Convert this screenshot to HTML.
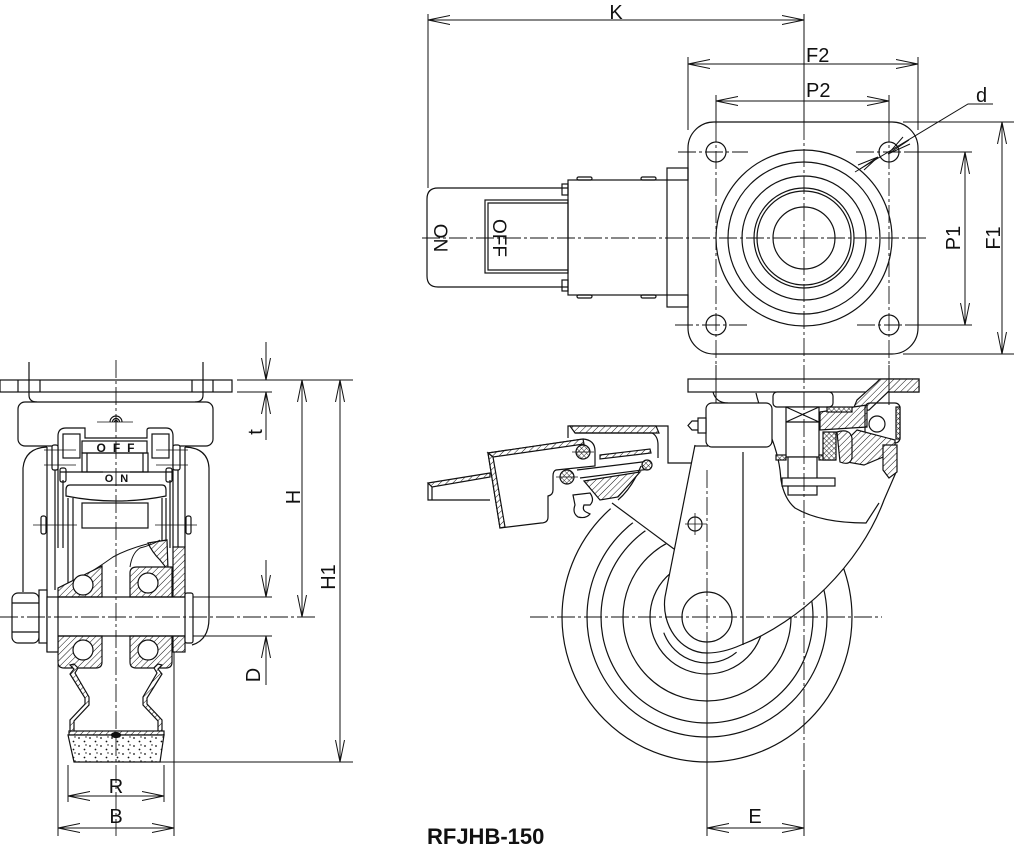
<!DOCTYPE html>
<html><head><meta charset="utf-8">
<style>
html,body{margin:0;padding:0;background:#fff;}
svg{display:block;}
text{font-family:"Liberation Sans",Arial,sans-serif;fill:#111;}
</style></head><body>
<svg width="1014" height="849" viewBox="0 0 1014 849" xmlns="http://www.w3.org/2000/svg">
<defs>
<marker id="ar" viewBox="0 0 22 10" refX="22" refY="5" markerWidth="22" markerHeight="10" markerUnits="userSpaceOnUse" orient="auto-start-reverse"><path d="M0,0.5 L22,5 L0,9.5" fill="none" stroke="#111" stroke-width="1"/></marker>
<pattern id="h" width="4.5" height="4.5" patternUnits="userSpaceOnUse" patternTransform="rotate(45)"><rect width="4.5" height="4.5" fill="#fff"/><line x1="0" y1="0" x2="0" y2="4.5" stroke="#111" stroke-width="1"/></pattern>
<pattern id="hx" width="3.5" height="3.5" patternUnits="userSpaceOnUse" patternTransform="rotate(45)"><rect width="3.5" height="3.5" fill="#fff"/><line x1="0" y1="0" x2="0" y2="3.5" stroke="#111" stroke-width="0.9"/><line x1="0" y1="0" x2="3.5" y2="0" stroke="#111" stroke-width="0.9"/></pattern>
<pattern id="st" width="11" height="8" patternUnits="userSpaceOnUse"><rect width="11" height="8" fill="#fff"/><circle cx="2" cy="2" r="0.9" fill="#111"/><circle cx="7.5" cy="5.5" r="0.9" fill="#111"/><circle cx="9" cy="1" r="0.7" fill="#111"/></pattern>
</defs>

<!-- ===================== TOP VIEW ===================== -->
<g fill="none" stroke="#111" stroke-width="1">
  <line x1="428" y1="20" x2="804" y2="20" marker-start="url(#ar)" marker-end="url(#ar)"/>
  <line x1="428" y1="14" x2="428" y2="188"/>
  <line x1="804" y1="14" x2="804" y2="122"/>
  <line x1="688" y1="64" x2="918" y2="64" marker-start="url(#ar)" marker-end="url(#ar)"/>
  <line x1="688" y1="57" x2="688" y2="130"/>
  <line x1="918" y1="57" x2="918" y2="130"/>
  <line x1="716" y1="101" x2="889" y2="101" marker-start="url(#ar)" marker-end="url(#ar)"/>
  <line x1="716" y1="95" x2="716" y2="124"/>
  <line x1="889" y1="95" x2="889" y2="124"/>
  <polyline points="993,104 968,104 855,172"/>
  <path d="M909,140 L888,154 M888,154 L903,137 M888,154 L910,144"/>
  <path d="M860,169 L878,157 M878,157 L858,165 M878,157 L864,170"/>
  <line x1="1002" y1="122" x2="1002" y2="354" marker-start="url(#ar)" marker-end="url(#ar)"/>
  <line x1="903" y1="122" x2="1014" y2="122"/>
  <line x1="903" y1="354" x2="1014" y2="354"/>
  <line x1="965" y1="152" x2="965" y2="325" marker-start="url(#ar)" marker-end="url(#ar)"/>
  <line x1="905" y1="152" x2="972" y2="152"/>
  <line x1="905" y1="325" x2="972" y2="325"/>
</g>
<g fill="none" stroke="#111" stroke-width="1.2">
  <rect x="688" y="122" width="230" height="232" rx="26"/>
  <circle cx="716" cy="152" r="10"/><circle cx="889" cy="152" r="10"/>
  <circle cx="716" cy="325" r="10"/><circle cx="889" cy="325" r="10"/>
  <circle cx="804" cy="238" r="88"/>
  <circle cx="804" cy="238" r="76"/>
  <circle cx="804" cy="238" r="62"/>
  <circle cx="804" cy="238" r="50"/>
  <circle cx="804" cy="238" r="47"/>
  <circle cx="804" cy="238" r="31"/>
  <path d="M568,188 H438 Q427,188 427,199 V276 Q427,287 438,287 H568"/>
  <rect x="485" y="200" width="83" height="73"/>
  <polyline points="568,203 488,203 488,270 568,270"/>
  <rect x="568" y="180" width="99" height="115"/>
  <rect x="562" y="184" width="6" height="11"/>
  <rect x="562" y="280" width="6" height="11"/>
  <rect x="577" y="177" width="15" height="3" rx="1.5"/>
  <rect x="641" y="177" width="15" height="3" rx="1.5"/>
  <rect x="577" y="295" width="15" height="3" rx="1.5"/>
  <rect x="641" y="295" width="15" height="3" rx="1.5"/>
  <rect x="667" y="168" width="21" height="12"/>
  <rect x="667" y="295" width="21" height="12"/>
</g>
<g fill="none" stroke="#111" stroke-width="0.9" stroke-dasharray="18,3,3,3">
  <line x1="422" y1="238" x2="926" y2="238"/>
  <line x1="804" y1="122" x2="804" y2="364"/>
  <line x1="716" y1="124" x2="716" y2="366"/>
  <line x1="889" y1="124" x2="889" y2="366"/>
  <line x1="678" y1="152" x2="748" y2="152"/>
  <line x1="856" y1="152" x2="905" y2="152"/>
  <line x1="675" y1="325" x2="749" y2="325"/>
  <line x1="857" y1="325" x2="905" y2="325"/>
</g>
<g font-size="20">
  <text x="616" y="19" text-anchor="middle">K</text>
  <text x="806" y="62">F2</text>
  <text x="806" y="97">P2</text>
  <text x="976" y="102">d</text>
  <text transform="translate(1000,238) rotate(-90)" text-anchor="middle">F1</text>
  <text transform="translate(960,238) rotate(-90)" text-anchor="middle">P1</text>
  <text transform="translate(434,238) rotate(90)" text-anchor="middle" font-size="19">ON</text>
  <text transform="translate(493,238) rotate(90)" text-anchor="middle" font-size="19">OFF</text>
</g>

<!-- ===================== LEFT (SIDE) VIEW ===================== -->
<g fill="none" stroke="#111" stroke-width="1">
  <line x1="237" y1="380" x2="353" y2="380"/>
  <line x1="237" y1="392" x2="272" y2="392"/>
  <line x1="266" y1="342" x2="266" y2="380" marker-end="url(#ar)"/>
  <line x1="266" y1="440" x2="266" y2="392" marker-end="url(#ar)"/>
  <line x1="302" y1="380" x2="302" y2="617" marker-start="url(#ar)" marker-end="url(#ar)"/>
  <line x1="340" y1="380" x2="340" y2="762" marker-start="url(#ar)" marker-end="url(#ar)"/>
  <line x1="193" y1="597" x2="272" y2="597"/>
  <line x1="193" y1="636" x2="272" y2="636"/>
  <line x1="266" y1="560" x2="266" y2="597" marker-end="url(#ar)"/>
  <line x1="266" y1="685" x2="266" y2="636" marker-end="url(#ar)"/>
  <line x1="160" y1="762" x2="353" y2="762"/>
  <line x1="68" y1="765" x2="68" y2="802"/>
  <line x1="164" y1="765" x2="164" y2="802"/>
  <line x1="58" y1="652" x2="58" y2="836"/>
  <line x1="174" y1="652" x2="174" y2="836"/>
  <line x1="68" y1="796" x2="164" y2="796" marker-start="url(#ar)" marker-end="url(#ar)"/>
  <line x1="58" y1="828" x2="174" y2="828" marker-start="url(#ar)" marker-end="url(#ar)"/>
</g>
<g fill="none" stroke="#111" stroke-width="1.2">
  <rect x="0" y="380" width="232" height="12"/>
  <line x1="18" y1="380" x2="18" y2="392"/><line x1="40" y1="380" x2="40" y2="392"/>
  <line x1="192" y1="380" x2="192" y2="392"/><line x1="213" y1="380" x2="213" y2="392"/>
  <path d="M29,362 V395 Q29,402 37,402"/>
  <path d="M203,362 V395 Q203,402 195,402"/>
  <rect x="18" y="402" width="195" height="44" rx="7" fill="#fff"/>
  <path d="M47,447 Q25,448 23,468 V592"/>
  <path d="M185,447 Q208,448 209,468 V618 Q209,640 192,645"/>
  <line x1="47" y1="447" x2="47" y2="652"/>
  <line x1="55" y1="457" x2="55" y2="590"/>
  <line x1="185" y1="447" x2="185" y2="547"/>
  <line x1="178" y1="457" x2="178" y2="547"/>
  <path d="M58,548 V436 Q58,428 66,428 H85 V438 H147 V430 Q147,428 150,428 H166 Q173,428 173,436 V548" fill="#fff"/>
  <rect x="63" y="434" width="17" height="24"/>
  <rect x="152" y="434" width="17" height="24"/>
  <rect x="52" y="445" width="6" height="25" rx="2" fill="#fff"/>
  <rect x="173" y="445" width="7" height="25" rx="2" fill="#fff"/>
  <line x1="44" y1="450" x2="76" y2="450" stroke-width="0.8"/>
  <line x1="44" y1="465" x2="76" y2="465" stroke-width="0.8"/>
  <line x1="156" y1="450" x2="188" y2="450" stroke-width="0.8"/>
  <line x1="156" y1="465" x2="188" y2="465" stroke-width="0.8"/>
  <path d="M110,422 A6,6 0 0 1 122,422"/>
  <path d="M112.5,422 A3.5,3.5 0 0 1 119.5,422"/>
  <path d="M114.5,422 A1.5,1.5 0 0 1 117.5,422"/>
  <line x1="97" y1="422" x2="133" y2="422" stroke-width="0.8"/>
  <rect x="82" y="441" width="65" height="12" fill="#fff"/>
  <rect x="82" y="453" width="66" height="19"/>
  <line x1="87" y1="453" x2="87" y2="472"/><line x1="143" y1="453" x2="143" y2="472"/>
  <line x1="60" y1="472" x2="103" y2="472"/>
  <line x1="130" y1="472" x2="172" y2="472"/>
  <rect x="60" y="468" width="6" height="14" rx="2"/>
  <rect x="166" y="468" width="6" height="14" rx="2"/>
  <path d="M70,485 H162 Q166,485 166,490 V496 Q116,506 66,496 V490 Q66,485 70,485 Z"/>
  <rect x="82" y="503" width="66" height="25"/>
  <line x1="33" y1="525" x2="77" y2="525" stroke-width="0.8"/>
  <line x1="155" y1="525" x2="197" y2="525" stroke-width="0.8"/>
  <rect x="41" y="516" width="5" height="18" rx="2"/>
  <rect x="186" y="516" width="5" height="18" rx="2"/>
  <line x1="63" y1="480" x2="63" y2="548"/>
  <line x1="68" y1="498" x2="68" y2="586"/>
  <line x1="73" y1="498" x2="73" y2="582"/>
  <line x1="162" y1="498" x2="162" y2="545"/>
  <line x1="166" y1="498" x2="166" y2="545"/>
  <line x1="170" y1="480" x2="170" y2="548"/>
  <path d="M58,588 L72,583 Q95,570 113,557 Q135,545 167,540" stroke-width="1"/>
  <path d="M148,543 L167,540 L168,570 L160,560 Q152,552 148,543 Z" fill="url(#h)"/>
  <rect x="173" y="547" width="12" height="50" fill="url(#h)"/>
  <rect x="173" y="636" width="12" height="16" fill="url(#h)"/>
  <path d="M58,597 V588 L102,566 V597 Z" fill="url(#h)"/>
  <circle cx="83" cy="585" r="10" fill="#fff"/>
  <path d="M130,597 V573 Q130,567 137,567 H172 V597 Z" fill="url(#h)"/>
  <circle cx="148" cy="583" r="10" fill="#fff"/>
  <path d="M58,636 H102 V662 Q102,668 96,668 H64 Q58,668 58,662 Z" fill="url(#h)"/>
  <circle cx="83" cy="650" r="10" fill="#fff"/>
  <path d="M130,636 H172 V662 Q172,668 166,668 H136 Q130,668 130,662 Z" fill="url(#h)"/>
  <circle cx="148" cy="650" r="10" fill="#fff"/>
  <path d="M130,567 Q132,553 140,548 Q152,545 160,540" stroke-width="1"/>
  <line x1="58" y1="597" x2="185" y2="597"/>
  <line x1="58" y1="636" x2="185" y2="636"/>
  <rect x="185" y="593" width="8" height="50" rx="2" fill="#fff"/>
  <rect x="12" y="593" width="27" height="50" rx="6" fill="#fff"/>
  <line x1="12" y1="603" x2="39" y2="603"/><line x1="12" y1="632" x2="39" y2="632"/>
  <rect x="39" y="590" width="8" height="53" fill="#fff"/>
  <rect x="47" y="597" width="11" height="55" fill="#fff"/>
  <path d="M70,665 L74,669 L70,674 L85,698 L85,704 L70,720 L70,732 L74,732 L74,721 L89,705 L89,697 L75,673 L78,668 L74,664 Z" fill="url(#h)"/>
  <path d="M162,665 L158,669 L162,674 L147,698 L147,704 L162,720 L162,732 L158,732 L158,721 L143,705 L143,697 L157,673 L154,668 L158,664 Z" fill="url(#h)"/>
  <rect x="69" y="731" width="95" height="4" fill="url(#h)"/>
  <path d="M68,735 H164 L160,762 H74 Z" fill="url(#st)"/>
  <ellipse cx="116" cy="735" rx="4.5" ry="2.5" fill="#111"/>
</g>
<g fill="none" stroke="#111" stroke-width="0.9" stroke-dasharray="18,3,3,3">
  <line x1="116" y1="360" x2="116" y2="836"/>
  <line x1="0" y1="617" x2="315" y2="617"/>
</g>
<g font-size="20">
  <text transform="translate(262,432) rotate(-90)" text-anchor="middle">t</text>
  <text transform="translate(300,497) rotate(-90)" text-anchor="middle">H</text>
  <text transform="translate(260,675) rotate(-90)" text-anchor="middle">D</text>
  <text transform="translate(335,577) rotate(-90)" text-anchor="middle">H1</text>
  <text x="116" y="793" text-anchor="middle">R</text>
  <text x="116" y="823" text-anchor="middle">B</text>
  <text x="119" y="452" text-anchor="middle" font-size="12" font-weight="bold" letter-spacing="7">OFF</text>
  <text x="120" y="482" text-anchor="middle" font-size="11" font-weight="bold" letter-spacing="7">ON</text>
</g>

<!-- ===================== RIGHT (FRONT) VIEW ===================== -->
<g fill="none" stroke="#111" stroke-width="1.2">
  <circle cx="707" cy="617" r="145"/>
  <circle cx="707" cy="617" r="120"/>
  <circle cx="707" cy="617" r="106"/>
  <circle cx="707" cy="617" r="84"/>
  <circle cx="707" cy="617" r="57"/>
  <path d="M605,505 L674,549 L695,445 L640,440 L620,470 Z" fill="#fff" stroke="none"/>
  <path d="M695,445 L665,597 C661,625 680,653 707,653 C720,653 732,649 741,645 C800,622 860,565 884,500 L897,470 L900,445 L900,393 L695,393 Z" fill="#fff" stroke="none"/>
  <path d="M695,445 L665,597 C661,625 680,653 707,653 C720,653 732,649 741,645 C800,622 860,565 884,500 L897,470"/>
  <path d="M663.8,632.7 A46,46 0 0 0 736.6,652.2"/>
  <circle cx="707" cy="617" r="25"/>
  <line x1="743" y1="452" x2="743" y2="645"/>
  <line x1="612" y1="503" x2="674" y2="549"/>
  <path d="M641,466 Q632,488 618,500"/>
  <line x1="695" y1="446" x2="708" y2="446"/>
  <path d="M756,393 C762,420 776,440 780,470 L781,480 C783,492 788,502 795,508 C812,518 835,523 866,523 L879,503"/>
  <circle cx="695" cy="524" r="7"/>
  <line x1="685" y1="524" x2="707" y2="524" stroke-width="0.8"/>
  <line x1="695" y1="513" x2="695" y2="535" stroke-width="0.8"/>
  <rect x="688" y="379" width="231" height="13" fill="#fff"/>
  <path d="M880,379 H919 V392 H888 L869,410 L852,412 L857,400 L876,383 Z" fill="url(#h)"/>
  <path d="M713,392 Q716,403 728,403"/>
  <rect x="706" y="403" width="66" height="44" rx="6" fill="#fff"/>
  <rect x="698" y="418" width="8" height="15" fill="#fff"/>
  <path d="M698,421 H692 L688,425.5 L692,430 H698"/>
  <rect x="773" y="392" width="60" height="15" rx="4" fill="#fff"/>
  <rect x="786" y="407" width="33" height="50" fill="#fff"/>
  <path d="M786,407 L819,422 M819,407 L786,422 M786,422 H819"/>
  <rect x="788" y="457" width="29" height="38" fill="#fff"/>
  <rect x="782" y="478" width="53" height="8" fill="#fff"/>
  <rect x="776" y="455" width="10" height="5" fill="url(#hx)"/>
  <rect x="819" y="455" width="16" height="5" fill="url(#hx)"/>
  <path d="M820,412 L867,405 V427 L820,430 Z" fill="url(#h)"/>
  <rect x="827" y="407" width="25" height="5" fill="url(#hx)"/>
  <rect x="865" y="403" width="35" height="40" rx="5"/>
  <rect x="896" y="407" width="4" height="32" fill="url(#hx)"/>
  <circle cx="877" cy="424" r="8" fill="#fff"/>
  <path d="M857,430 L895,440 V452 L864,465 L847,462 L843,444 Z" fill="url(#h)"/>
  <path d="M837,432 Q850,428 852,438 V458 Q850,466 840,462 Z" fill="url(#h)"/>
  <rect x="823" y="432" width="13" height="28" fill="url(#hx)"/>
  <path d="M883,445 H897 V472 L889,478 L883,470 Z" fill="url(#h)"/>
  <path d="M568,438 V426 H668 V463 H691"/>
  <path d="M570,426 H656 L659,433 H575 Z" fill="url(#h)"/>
  <path d="M575,433 H652 Q658,436 658,445 V458"/>
  <path d="M488,453 L583,439 Q595,440 595,451 V466 L556,470 Q553,471 553,476 V490 Q553,495 548,496 V517 Q548,523 541,523 L500,528 Z" fill="#fff"/>
  <path d="M488,453 L583,439 L584,444 L493,457 Z" fill="url(#h)"/>
  <path d="M488,453 L493,457 L505,527 L500,528 Z" fill="url(#h)"/>
  <path d="M573,495 L590,493 Q595,500 590,505 L584,505 Q582,510 586,512 L590,514 Q586,519 578,517 Q572,513 575,505 Z" fill="#fff"/>
  <path d="M600,455 L650,449 L651,453 L600,459 Z" fill="url(#h)"/>
  <line x1="577" y1="470" x2="650" y2="461"/>
  <line x1="580" y1="478" x2="650" y2="469"/>
  <path d="M584,481 L640,472 L618,497 L600,500 Z" fill="url(#h)"/>
  <circle cx="583" cy="452" r="7" fill="url(#hx)"/>
  <circle cx="567" cy="477" r="7" fill="url(#hx)"/>
  <circle cx="647" cy="465" r="5" fill="url(#hx)"/>
  <line x1="572" y1="452" x2="594" y2="452" stroke-width="0.7"/>
  <line x1="556" y1="477" x2="578" y2="477" stroke-width="0.7"/>
  <path d="M428,483 L490,473 L490,477 L432,487 Z" fill="url(#h)"/>
  <path d="M428,483 V500 H490"/>
  <line x1="432" y1="487" x2="432" y2="500"/>
</g>
<g fill="none" stroke="#111" stroke-width="1">
  <line x1="716" y1="365" x2="716" y2="403"/>
  <line x1="889" y1="365" x2="889" y2="405"/>
  <line x1="707" y1="650" x2="707" y2="836"/>
  <line x1="804" y1="770" x2="804" y2="836"/>
  <line x1="707" y1="828" x2="804" y2="828" marker-start="url(#ar)" marker-end="url(#ar)"/>
</g>
<g fill="none" stroke="#111" stroke-width="0.9" stroke-dasharray="18,3,3,3">
  <line x1="804" y1="365" x2="804" y2="836"/>
  <line x1="707" y1="470" x2="707" y2="836"/>
  <line x1="530" y1="617" x2="882" y2="617"/>
</g>
<text x="755" y="823" text-anchor="middle" font-size="20">E</text>
<text x="427" y="844" font-size="22" font-weight="bold">RFJHB-150</text>
</svg>
</body></html>
